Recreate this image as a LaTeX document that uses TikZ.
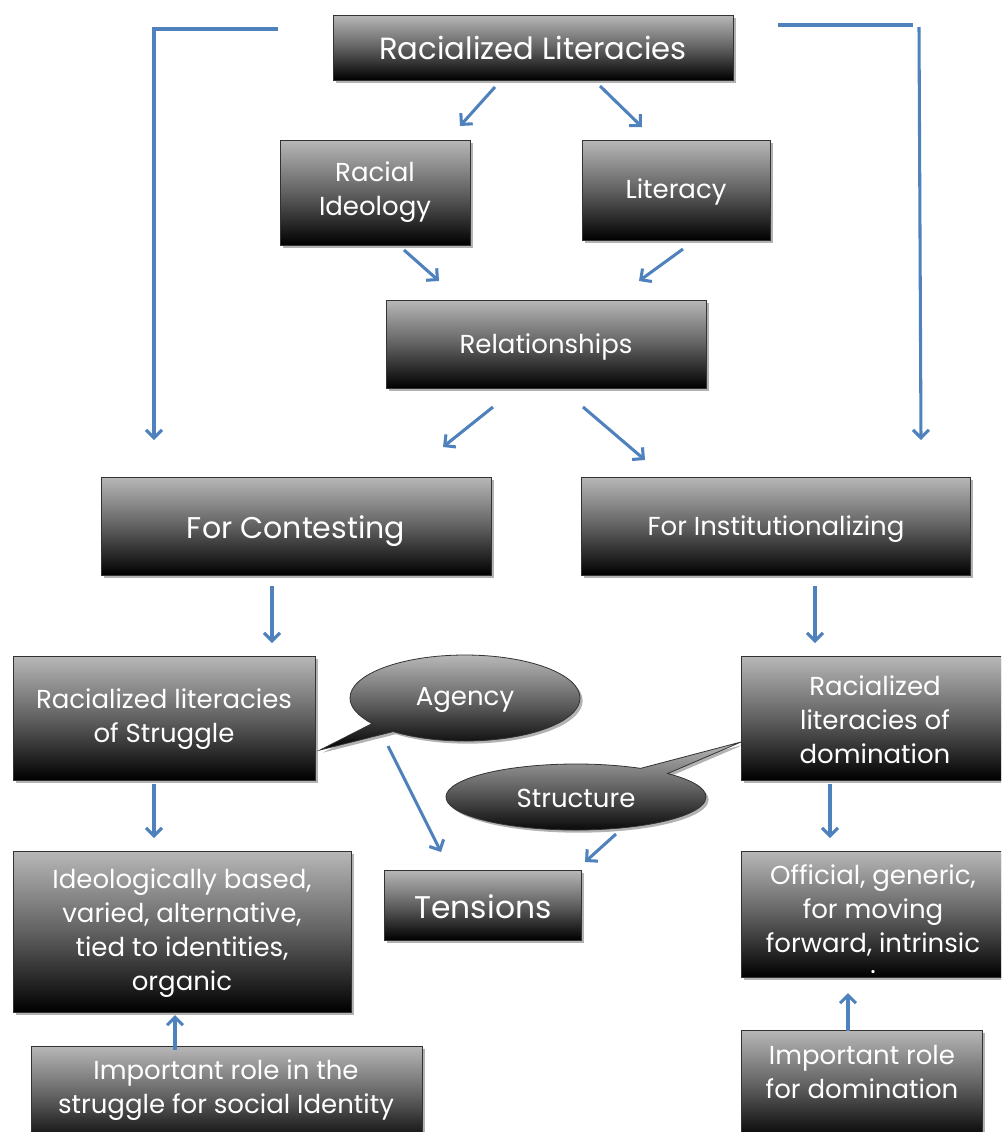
\documentclass[tikz,border=0pt]{standalone}
\usepackage{fontspec}
\setmainfont{Poppins}
\usetikzlibrary{arrows.meta,shapes.callouts,shadows}
\definecolor{arrowblue}{HTML}{4F81BD}
\tikzset{
  box/.style 2 args={draw=black!80, line width=0.6pt, top color=black!28, bottom color=black,
    middle color=black!62, minimum width=#1*0.75pt, minimum height=#2*0.75pt, inner sep=0pt,
    drop shadow={shadow xshift=2pt, shadow yshift=-2pt, opacity=0.3, fill=black}},
  txt/.style={text=white, align=center, inner sep=0pt, font=\fontsize{19.5}{25.5}\selectfont},
  bigtxt/.style={txt, font=\fontsize{23}{26}\selectfont},
  bubble/.style 2 args={ellipse callout, draw=black!80, line width=0.6pt, top color=black!28,
    bottom color=black, middle color=black!62, minimum width=#1*0.75pt, minimum height=#2*0.75pt,
    inner sep=0pt, drop shadow={shadow xshift=2pt, shadow yshift=-2pt, opacity=0.3, fill=black}},
  conn/.style={draw=arrowblue, line width=2.3pt, -{Straight Barb[length=6pt,width=12pt]}},
  plain/.style={draw=arrowblue, line width=2.3pt},
}
\begin{document}
\begin{tikzpicture}[x=0.75pt,y=-0.75pt]
\useasboundingbox (0,0) rectangle (1001,1132);
\clip (0,0) rectangle (1001,1132);
% boxes
\node[box={400}{65}] (rl) at (533,47.5) {};
\node[bigtxt] (trl) at (533,48) {Racialized Literacies};
\node[box={190}{105}] (ri) at (375,192.5) {};
\node[txt] (tri) at (375,192) {Racial\\Ideology};
\node[box={188}{100}] (li) at (676,190) {};
\node[txt] (tli) at (676,192) {Literacy};
\node[box={320}{88}] (re) at (546,344) {};
\node[txt] (tre) at (546,347) {Relationships};
\node[box={390}{98}] (fc) at (296,526) {};
\node[bigtxt, font=\fontsize{22.5}{26}\selectfont] (tfc) at (296,531) {For Contesting};
\node[box={389}{98}] (fi) at (776,526) {};
\node[txt] (tfi) at (776,529) {For Institutionalizing};
\node[box={302}{124}] (rs) at (164,718) {};
\node[txt] (trs) at (164,719) {Racialized literacies\\of Struggle};
\node[box={266}{124}] (rd) at (874,718) {};
\node[txt] (trd) at (875,720) {Racialized\\literacies of\\domination};
\node[box={338}{161}] (ib) at (182,931.5) {};
\node[txt] (tib) at (182,933) {Ideologically based,\\varied, alternative,\\tied to identities,\\organic};
\node[box={197}{70}] (te) at (482.5,905) {};
\node[bigtxt, font=\fontsize{23.5}{26}\selectfont] (tte) at (483,907) {Tensions};
\node[box={266}{126}] (of) at (874,914) {};
\node[txt] (tof) at (873,910) {Official, generic,\\for moving\\forward, intrinsic};
\node[text=white, inner sep=0pt, font=\fontsize{19.5}{20}\selectfont] (tofdot) at (873,972) {.};
\node[box={391}{100}] (is) at (226.5,1096) {};
\node[txt] (tis) at (226,1090) {Important role in the\\struggle for social Identity};
\node[box={241}{110}] (id) at (861.5,1085) {};
\node[txt] (tid) at (862,1072) {Important role\\for domination};
% callouts
\node[bubble={230}{86}, callout absolute pointer={(320,750)}] (ag) at (465,698) {};
\node[txt] (tag) at (465,700) {Agency};
\node[bubble={260}{66}, callout absolute pointer={(741,742)}] (st) at (576,797) {};
\node[txt] (tst) at (576,798) {Structure};
% connector end points
\coordinate (a1s) at (495,87);  \coordinate (a1e) at (460,126);
\coordinate (a2s) at (600,86);  \coordinate (a2e) at (642,127);
\coordinate (a3s) at (404,250); \coordinate (a3e) at (439,281);
\coordinate (a4s) at (683,249); \coordinate (a4e) at (639,281);
\coordinate (a5s) at (493,407); \coordinate (a5e) at (443,447);
\coordinate (a6s) at (583,407); \coordinate (a6e) at (645,460);
\coordinate (a7s) at (272,586); \coordinate (a7e) at (272,643);
\coordinate (a8s) at (815,586); \coordinate (a8e) at (815,643);
\coordinate (a9s) at (154,784); \coordinate (a9e) at (154,838);
\coordinate (a10s) at (830,784); \coordinate (a10e) at (830,838);
\coordinate (a11s) at (388,746); \coordinate (a11e) at (441,852);
\coordinate (a12s) at (616,834); \coordinate (a12e) at (585,862);
\coordinate (a13s) at (175,1050); \coordinate (a13e) at (175,1015);
\coordinate (a14s) at (848,1031); \coordinate (a14e) at (848,993);
\coordinate (lb1) at (278,29); \coordinate (lb2) at (154,29); \coordinate (lb3) at (154,440);
\coordinate (rb1) at (778,25); \coordinate (rb2) at (913,25);
\coordinate (rb3) at (919,27); \coordinate (rb4) at (921,440);
% connectors
\draw[conn] (a1s) -- (a1e);
\draw[conn] (a2s) -- (a2e);
\draw[conn] (a3s) -- (a3e);
\draw[conn] (a4s) -- (a4e);
\draw[conn] (a5s) -- (a5e);
\draw[conn] (a6s) -- (a6e);
\draw[conn] (a7s) -- (a7e);
\draw[conn] (a8s) -- (a8e);
\draw[conn] (a9s) -- (a9e);
\draw[conn] (a10s) -- (a10e);
\draw[conn] (a11s) -- (a11e);
\draw[conn] (a12s) -- (a12e);
\draw[conn] (a13s) -- (a13e);
\draw[conn] (a14s) -- (a14e);
\draw[conn] (lb1) -- (lb2) -- (lb3);
\draw[plain] (rb1) -- (rb2);
\draw[conn] (rb3) -- (rb4);
\end{tikzpicture}
\end{document}
